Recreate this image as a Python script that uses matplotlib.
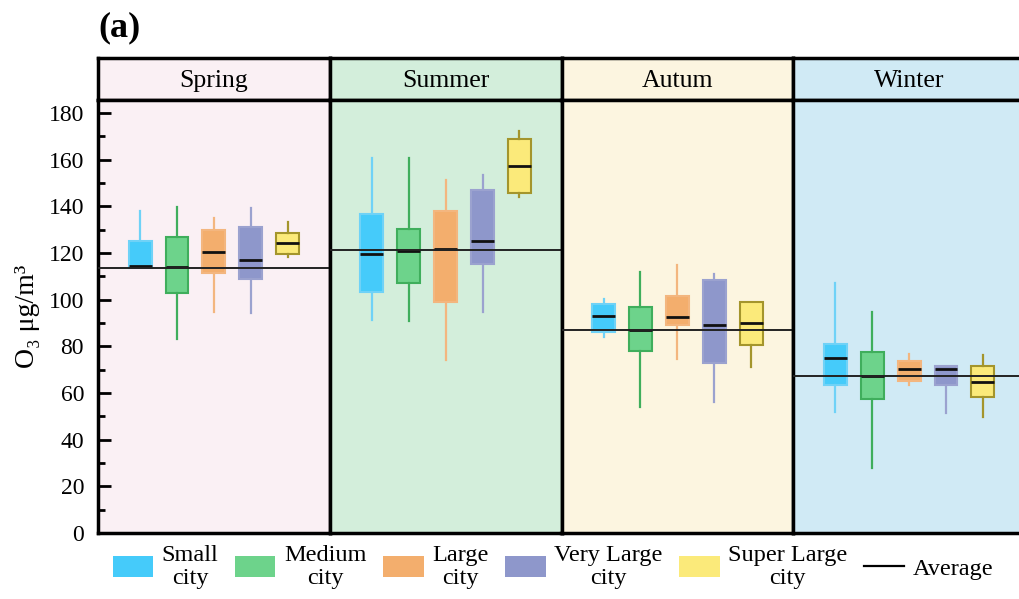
import matplotlib
matplotlib.use('Agg')
import matplotlib.pyplot as plt
from matplotlib.patches import Patch
from matplotlib.lines import Line2D

plt.rcParams['font.family'] = ['Liberation Serif', 'DejaVu Serif']
plt.rcParams['mathtext.fontset'] = 'stix'

SEASONS = ['Spring', 'Summer', 'Autum', 'Winter']
CITY_TYPES = ['Small\ncity', 'Medium\ncity', 'Large\ncity', 'Very Large\ncity', 'Super Large\ncity']

# box statistics per season (rows) and city type (columns), O3 in ug/m3
WHIS_LO = [[113.4, 83.1, 94.6, 94.2, 118.4],
           [91.3, 91.0, 74.1, 94.9, 143.9],
           [83.9, 54.1, 74.4, 56.3, 71.3],
           [51.7, 27.7, 63.4, 51.4, 49.9]]
Q1 = [[113.4, 103.0, 111.6, 108.7, 119.6],
      [103.3, 107.3, 99.0, 115.4, 145.7],
      [86.3, 77.9, 89.3, 72.9, 80.6],
      [63.4, 57.6, 65.0, 63.3, 58.1]]
MEDIAN = [[114.4, 114.1, 120.3, 116.9, 124.1],
          [119.6, 120.9, 121.7, 125.1, 157.3],
          [93.0, 86.9, 92.4, 89.1, 89.9],
          [75.1, 67.1, 70.3, 70.4, 64.9]]
Q3 = [[125.3, 127.0, 129.9, 131.3, 128.7],
      [136.6, 130.3, 137.9, 146.9, 168.9],
      [98.0, 97.0, 101.4, 108.3, 98.9],
      [81.1, 77.7, 73.7, 71.4, 71.4]]
WHIS_HI = [[138.1, 139.9, 134.9, 139.4, 133.3],
           [160.6, 160.9, 151.3, 153.4, 172.3],
           [100.1, 112.0, 114.9, 111.0, 99.1],
           [107.0, 94.9, 76.7, 71.4, 76.1]]
AVERAGE = [113.7, 121.4, 87.1, 67.1]

BG = ['#faf0f4', '#d3eedb', '#fcf5e0', '#d0eaf5']
FACE = ['#45cbfa', '#6dd38b', '#f3ae6d', '#8e97cb', '#fbea7a']
EDGE = ['#6fd2f7', '#3fae5c', '#f3b67f', '#9ba2cf', '#a4952c']

fig = plt.figure(figsize=(10.19, 5.99), dpi=100)
gs = fig.add_gridspec(2, 4, height_ratios=[42, 433], hspace=0, wspace=0,
                      left=98 / 1019, right=1025 / 1019,
                      top=1 - 58 / 599, bottom=1 - 533 / 599)

positions = [-2, -1, 0, 1, 2]
axes = []
for s, season in enumerate(SEASONS):
    # header strip
    hax = fig.add_subplot(gs[0, s])
    hax.set_facecolor(BG[s])
    hax.set_xticks([]); hax.set_yticks([])
    for sp in hax.spines.values():
        sp.set_linewidth(2.5)
    hax.text(0.5, 0.45, season, ha='center', va='center', fontsize=18.5,
             transform=hax.transAxes)

    ax = fig.add_subplot(gs[1, s])
    ax.set_facecolor(BG[s])
    stats = []
    for i in range(len(CITY_TYPES)):
        stats.append({'med': MEDIAN[s][i], 'q1': Q1[s][i], 'q3': Q3[s][i],
                      'whislo': WHIS_LO[s][i], 'whishi': WHIS_HI[s][i]})
    bp = ax.bxp(stats, positions=positions, widths=0.62, patch_artist=True,
                showcaps=False, showfliers=False)
    for i, box in enumerate(bp['boxes']):
        box.set_facecolor(FACE[i])
        box.set_edgecolor(EDGE[i])
        box.set_linewidth(1.5)
    for i, med in enumerate(bp['medians']):
        med.set_color('#111111')
        med.set_linewidth(2)
    for i, w in enumerate(bp['whiskers']):
        w.set_color(EDGE[i // 2])
        w.set_linewidth(1.6)
    ax.axhline(AVERAGE[s], color='#222222', lw=1.4, zorder=5)

    ax.set_xlim(-3.14, 3.14)
    ax.set_ylim(0, 185.6)
    ax.set_xticks([])
    for sp in ax.spines.values():
        sp.set_linewidth(2.5)
    if s == 0:
        ax.set_yticks(range(0, 181, 20))
        ax.set_yticks(range(10, 181, 20), minor=True)
        ax.tick_params(axis='y', which='major', direction='in', length=9,
                       width=2, labelsize=17, pad=10)
        ax.tick_params(axis='y', which='minor', direction='in', length=5, width=2)
        ax.set_ylabel('O₃ μg/m³', fontsize=20)
        ax.yaxis.set_label_coords(-0.25, 0.5)
    else:
        ax.set_yticks([])
    axes.append(ax)

fig.text(98 / 1019, 1 - 28 / 599, '(a)', fontsize=26, fontweight='bold',
         ha='left', va='center')

handles = [Patch(facecolor=FACE[i], edgecolor='none') for i in range(len(CITY_TYPES))]
handles.append(Line2D([0], [0], color='black', lw=1.6))
labels = CITY_TYPES + ['Average']
leg = fig.legend(handles, labels, ncol=6, frameon=False, loc='center left',
                 bbox_to_anchor=(113 / 1019, 1 - 567 / 599), fontsize=17.5,
                 borderpad=0, borderaxespad=0, handlelength=1.65,
                 handleheight=0.95, handletextpad=0.35, columnspacing=0.7)
for t in leg.get_texts():
    t.set_multialignment('center')
    t.set_linespacing(1.1)

fig.savefig('out.png', dpi=100)
